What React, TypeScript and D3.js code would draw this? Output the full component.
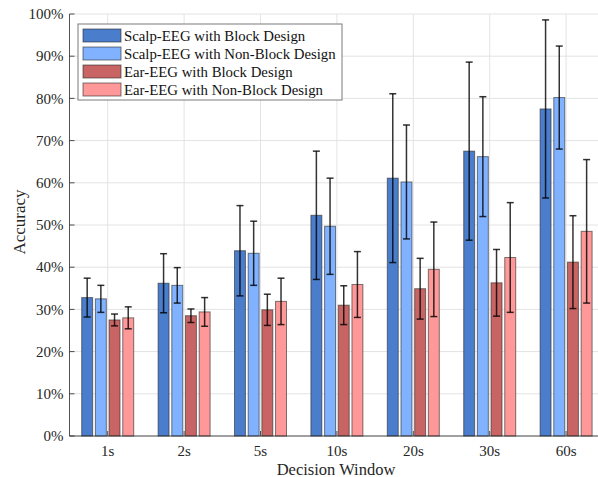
import { useRef, useEffect } from "react";
import * as d3 from "d3";

const categories = ["1s", "2s", "5s", "10s", "20s", "30s", "60s"];

const seriesNames = [
  "Scalp-EEG with Block Design",
  "Scalp-EEG with Non-Block Design",
  "Ear-EEG with Block Design",
  "Ear-EEG with Non-Block Design",
];

// mean accuracy (%) per decision window
const scalpBlock = [32.8, 36.2, 43.9, 52.3, 61.1, 67.5, 77.5];
const scalpNonBlock = [32.5, 35.7, 43.3, 49.7, 60.2, 66.2, 80.2];
const earBlock = [27.5, 28.5, 29.9, 31.0, 34.9, 36.3, 41.2];
const earNonBlock = [28.0, 29.4, 31.9, 35.9, 39.5, 42.3, 48.5];

// standard deviation (%)
const scalpBlockErr = [4.6, 7.0, 10.7, 15.2, 20.0, 21.1, 21.1];
const scalpNonBlockErr = [3.2, 4.2, 7.6, 11.4, 13.5, 14.2, 12.2];
const earBlockErr = [1.4, 1.6, 3.7, 4.6, 7.2, 7.9, 11.0];
const earNonBlockErr = [2.6, 3.4, 5.5, 7.8, 11.2, 13.0, 17.0];

const yTicks = [0, 10, 20, 30, 40, 50, 60, 70, 80, 90, 100];

const colors = ["#4a7dcb", "#80b2ff", "#c96464", "#ff9898"];

const W = 598;
const H = 477;

export default function App() {
  const svgRef = useRef<SVGSVGElement>(null);

  useEffect(() => {
    if (!svgRef.current) return;
    const svg = d3.select(svgRef.current);
    svg.selectAll("*").remove();

    const left = 69.5;
    const top = 14;
    const bottom = 436;
    const right = left + 7 * 76.4;
    const font = "'Liberation Serif', 'Times New Roman', serif";

    const means = [scalpBlock, scalpNonBlock, earBlock, earNonBlock];
    const errs = [scalpBlockErr, scalpNonBlockErr, earBlockErr, earNonBlockErr];

    const x = d3.scaleBand().domain(categories).range([left, right]).padding(0);
    const xSub = d3
      .scaleBand()
      .domain(seriesNames)
      .range([-26, 26])
      .paddingInner(0.2)
      .paddingOuter(0);
    const y = d3.scaleLinear().domain([0, 100]).range([bottom, top]);

    const cx = (c: string) => (x(c) || 0) + x.bandwidth() / 2;

    // grid
    const grid = svg.append("g");
    grid
      .selectAll("line.h")
      .data(yTicks)
      .join("line")
      .attr("x1", left)
      .attr("x2", right)
      .attr("y1", (d) => y(d))
      .attr("y2", (d) => y(d))
      .attr("stroke", "#e3e3e3")
      .attr("stroke-width", 1);
    grid
      .selectAll("line.v")
      .data(categories)
      .join("line")
      .attr("x1", (d) => cx(d))
      .attr("x2", (d) => cx(d))
      .attr("y1", top)
      .attr("y2", bottom)
      .attr("stroke", "#e3e3e3")
      .attr("stroke-width", 1);

    // bars
    seriesNames.forEach((s, si) => {
      const g = svg.append("g");
      g.selectAll("rect")
        .data(categories)
        .join("rect")
        .attr("x", (c) => cx(c) + (xSub(s) || 0))
        .attr("y", (_, i) => y(means[si][i]))
        .attr("width", xSub.bandwidth())
        .attr("height", (_, i) => bottom - y(means[si][i]))
        .attr("fill", colors[si])
        .attr("stroke", "rgba(40,40,40,0.6)")
        .attr("stroke-width", 1);
    });

    // error bars
    seriesNames.forEach((s, si) => {
      const g = svg.append("g").attr("stroke", "rgba(0,0,0,0.8)").attr("stroke-width", 1.5);
      categories.forEach((c, i) => {
        const px = cx(c) + (xSub(s) || 0) + xSub.bandwidth() / 2;
        const hi = y(means[si][i] + errs[si][i]);
        const lo = y(means[si][i] - errs[si][i]);
        g.append("line").attr("x1", px).attr("x2", px).attr("y1", hi).attr("y2", lo);
        g.append("line").attr("x1", px - 3.5).attr("x2", px + 3.5).attr("y1", hi).attr("y2", hi);
        g.append("line").attr("x1", px - 3.5).attr("x2", px + 3.5).attr("y1", lo).attr("y2", lo);
      });
    });

    // axes
    const axisColor = "#262626";
    svg
      .append("line")
      .attr("x1", left)
      .attr("x2", left)
      .attr("y1", top)
      .attr("y2", bottom)
      .attr("stroke", axisColor)
      .attr("stroke-width", 0.8);
    svg
      .append("line")
      .attr("x1", left)
      .attr("x2", right)
      .attr("y1", bottom)
      .attr("y2", bottom)
      .attr("stroke", axisColor)
      .attr("stroke-width", 0.8);

    svg
      .append("g")
      .selectAll("line")
      .data(yTicks)
      .join("line")
      .attr("x1", left)
      .attr("x2", left + 5)
      .attr("y1", (d) => y(d))
      .attr("y2", (d) => y(d))
      .attr("stroke", axisColor)
      .attr("stroke-width", 0.8);
    svg
      .append("g")
      .selectAll("line")
      .data(categories)
      .join("line")
      .attr("x1", (d) => cx(d))
      .attr("x2", (d) => cx(d))
      .attr("y1", bottom)
      .attr("y2", bottom - 5)
      .attr("stroke", axisColor)
      .attr("stroke-width", 0.8);

    svg
      .append("g")
      .selectAll("text")
      .data(yTicks)
      .join("text")
      .attr("x", left - 6)
      .attr("y", (d) => y(d))
      .attr("dy", "0.35em")
      .attr("text-anchor", "end")
      .style("font-family", font)
      .style("font-size", "15px")
      .style("fill", "#262626")
      .text((d) => `${d}%`);

    svg
      .append("g")
      .selectAll("text")
      .data(categories)
      .join("text")
      .attr("x", (d) => cx(d))
      .attr("y", 455.5)
      .attr("text-anchor", "middle")
      .style("font-family", font)
      .style("font-size", "15px")
      .style("fill", "#262626")
      .text((d) => d);

    svg
      .append("text")
      .attr("x", 336)
      .attr("y", 474.5)
      .attr("text-anchor", "middle")
      .style("font-family", font)
      .style("font-size", "16.5px")
      .style("fill", "#262626")
      .text("Decision Window");

    svg
      .append("text")
      .attr("transform", `translate(25,222) rotate(-90)`)
      .attr("text-anchor", "middle")
      .style("font-family", font)
      .style("font-size", "17px")
      .style("fill", "#262626")
      .text("Accuracy");

    // legend
    const lg = svg.append("g").attr("transform", "translate(78,24)");
    lg.append("rect")
      .attr("width", 264)
      .attr("height", 76)
      .attr("fill", "#ffffff")
      .attr("stroke", "#7a7a7a")
      .attr("stroke-width", 1);
    seriesNames.forEach((s, i) => {
      const row = lg.append("g").attr("transform", `translate(5,${5 + i * 18})`);
      row
        .append("rect")
        .attr("width", 38)
        .attr("height", 13)
        .attr("fill", colors[i])
        .attr("stroke", "rgba(40,40,40,0.6)")
        .attr("stroke-width", 1);
      row
        .append("text")
        .attr("x", 41)
        .attr("y", 7)
        .attr("dy", "0.35em")
        .style("font-family", font)
        .style("font-size", "14.8px")
        .style("fill", "#111")
        .text(s);
    });
  }, []);

  return (
    <svg
      ref={svgRef}
      width={W}
      height={H}
      style={{ position: "absolute", left: 0, top: 0, background: "#fff" }}
    />
  );
}
